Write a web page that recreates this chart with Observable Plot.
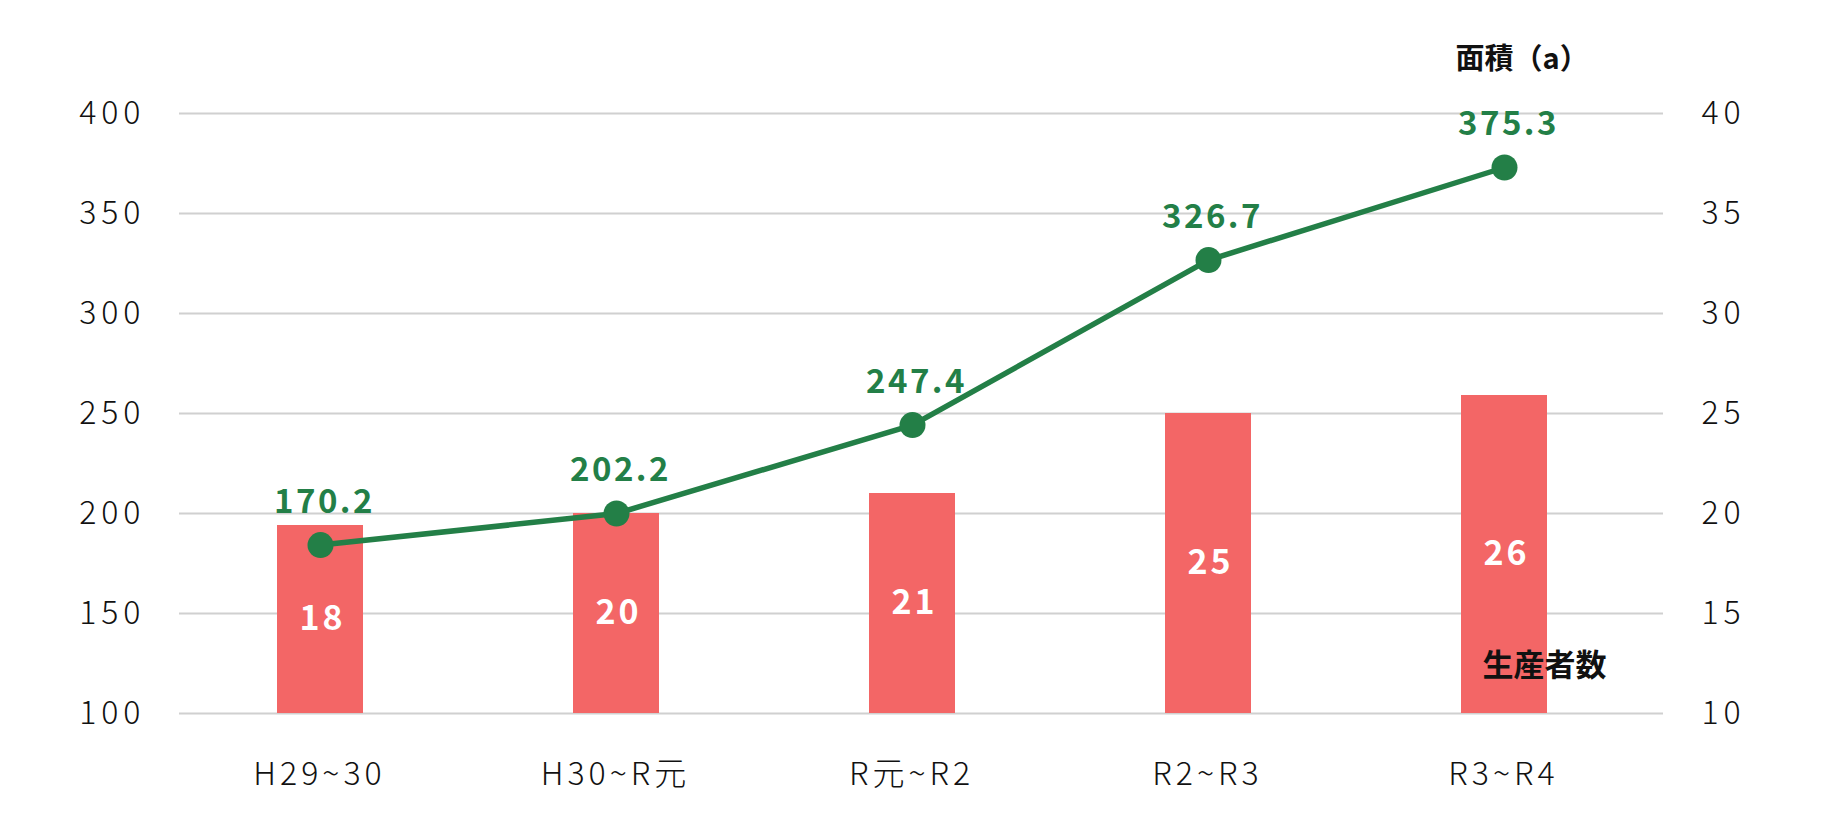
<!DOCTYPE html>
<html>
<head>
<meta charset="utf-8">
<script src="https://cdn.jsdelivr.net/npm/d3@7"></script>
<script src="https://cdn.jsdelivr.net/npm/@observablehq/plot@0.6"></script>
<style>
  html, body { margin: 0; padding: 0; background: #fff; }
  #chart svg { display: block; }
  #chart g[aria-label="y-axis tick label"] text { letter-spacing: 5px; }
  #chart g[aria-label="x-axis tick label"] text { letter-spacing: 4px; }
</style>
</head>
<body>
<div id="chart"></div>
<script>
// Categories (x axis)
const categories = ["H29~30", "H30~R元", "R元~R2", "R2~R3", "R3~R4"];
const areaValues = [184.2, 200, 244.2, 326.7, 373];
const areaLabels = ["170.2", "202.2", "247.4", "326.7", "375.3"];
const producerValues = [19.4, 20, 21, 25, 25.9];
const producerLabels = ["18", "20", "21", "25", "26"];
// Axis ticks
const leftTicks = [100, 150, 200, 250, 300, 350, 400];
const rightTicks = [10, 15, 20, 25, 30, 35, 40];

const RATIO = 10; // right axis (生産者数) -> left axis (面積) units

const areaData = categories.map((c, i) => ({cat: c, v: areaValues[i], label: areaLabels[i]}));
const barData = categories.map((c, i) => ({cat: c, v: producerValues[i] * RATIO, label: producerLabels[i]}));

const GREEN = "#237f47";
const RED = "#f36666";
const FONT = "'Noto Sans CJK JP', 'Noto Sans', sans-serif";

const chart = Plot.plot({
  width: 1840,
  height: 840,
  marginLeft: 179,
  marginRight: 177,
  marginTop: 113,
  marginBottom: 127,
  style: {fontFamily: FONT, background: "#fff", color: "#111"},
  x: {type: "band", domain: categories, range: [170, 1654], paddingInner: 0.71, paddingOuter: 0.355},
  y: {domain: [100, 400]},
  marks: [
    Plot.ruleY(leftTicks, {stroke: "#d0d0d0", strokeWidth: 2}),
    Plot.axisY(leftTicks, {anchor: "left", tickSize: 0, tickPadding: 34, fontSize: 32, fontWeight: 300, label: null}),
    Plot.axisY(rightTicks.map(d => d * RATIO), {anchor: "right", tickSize: 0, tickPadding: 38, fontSize: 32, fontWeight: 300, tickFormat: d => String(d / RATIO), label: null}),
    Plot.axisX({tickSize: 0, tickPadding: 49, dx: -1, fontSize: 32, fontWeight: 300, label: null}),
    Plot.barY(barData, {x: "cat", y1: 100, y2: "v", fill: RED}),
    Plot.text(barData, {x: "cat", y: d => (100 + d.v) / 2, text: "label", dx: 2, fill: "#fff", fontSize: 34, fontWeight: "bold"}),
    Plot.line(areaData, {x: "cat", y: "v", stroke: GREEN, strokeWidth: 5.5}),
    Plot.dot(areaData, {x: "cat", y: "v", r: 13, fill: GREEN}),
    Plot.text(areaData, {x: "cat", y: "v", text: "label", dx: 4, dy: -43, fill: GREEN, fontSize: 33, fontWeight: "bold"}),
    Plot.text(["面積（a）"], {x: () => categories[4], y: () => 400, dx: -49, dy: -54, textAnchor: "start", fontSize: 29, fontWeight: "bold", fill: "#111"}),
    Plot.text(["生産者数"], {x: () => categories[4], y: () => 100, dx: 40, dy: -47, fontSize: 31, fontWeight: "bold", fill: "#111"})
  ]
});

// letter spacing for value labels (text marks in order: producer labels, area labels, titles)
const textGroups = chart.querySelectorAll('g[aria-label="text"]');
if (textGroups[0]) textGroups[0].style.letterSpacing = "3px";
if (textGroups[1]) textGroups[1].style.letterSpacing = "2.5px";

document.getElementById("chart").appendChild(chart);
</script>
</body>
</html>
